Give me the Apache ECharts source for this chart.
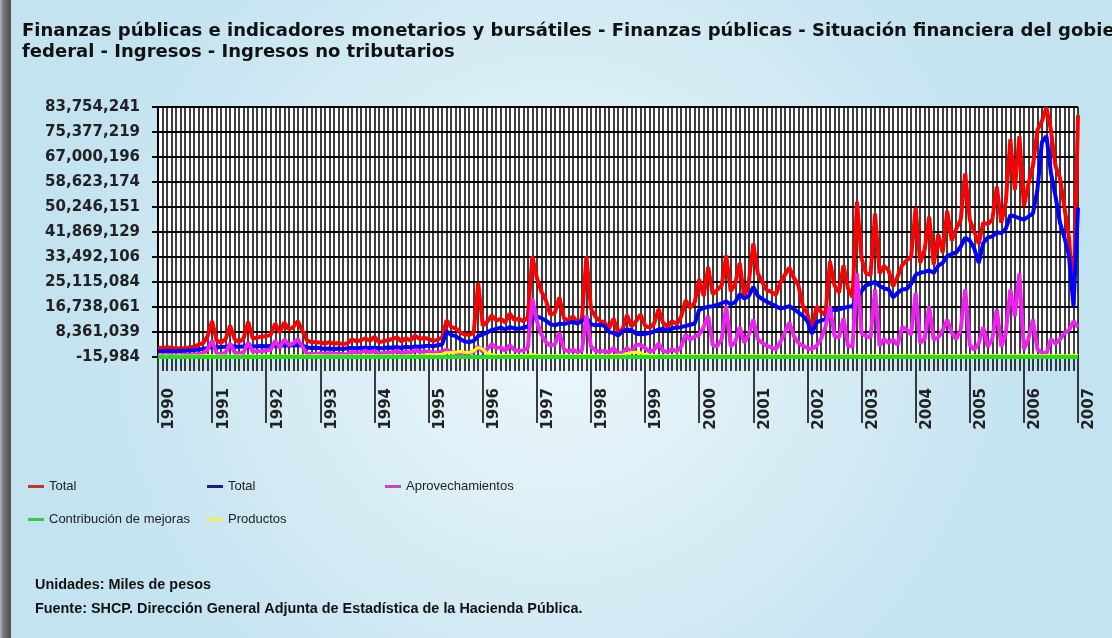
<!DOCTYPE html>
<html>
<head>
<meta charset="utf-8">
<title>Ingresos no tributarios</title>
<script src="https://cdn.jsdelivr.net/npm/echarts@6.0.0/dist/echarts.min.js"></script>
<style>
  html, body { margin: 0; padding: 0; }
  #chart { width: 1112px; height: 638px; }
</style>
</head>
<body>
<div id="chart"></div>
<script>
// categorias: meses ene-1990 .. ene-2007
var years = ['1990','1991','1992','1993','1994','1995','1996','1997','1998','1999','2000','2001','2002','2003','2004','2005','2006','2007'];
var monthNums = ['01','02','03','04','05','06','07','08','09','10','11','12'];

// eje Y (miles de pesos)
var yTicks = [-15984, 8361039, 16738061, 25115084, 33492106, 41869129, 50246151, 58623174, 67000196, 75377219, 83754241];

// Total (rojo)
var totalRojo = [
  3.1e6, 2.9e6, 3.3e6, 3.0e6, 2.8e6, 2.9e6, 3.0e6, 3.2e6, 3.4e6, 4.2e6, 4.6e6, 7.0e6,
  12.0e6, 5.5e6, 4.8e6, 6.0e6, 10.5e6, 6.0e6, 5.0e6, 6.3e6, 11.8e6, 6.2e6, 6.5e6, 6.8e6,
  7.0e6, 7.4e6, 11.2e6, 8.2e6, 11.6e6, 9.2e6, 10.0e6, 12.0e6, 8.8e6, 5.6e6, 5.0e6, 4.9e6,
  4.8e6, 4.5e6, 5.0e6, 4.4e6, 4.7e6, 4.3e6, 4.6e6, 5.9e6, 5.2e6, 5.6e6, 6.2e6, 5.4e6,
  6.8e6, 4.9e6, 5.3e6, 5.6e6, 6.0e6, 6.6e6, 5.2e6, 6.3e6, 5.5e6, 7.2e6, 6.0e6, 6.4e6,
  6.0e6, 5.4e6, 5.8e6, 6.5e6, 12.3e6, 10.0e6, 9.6e6, 8.2e6, 7.6e6, 7.4e6, 8.0e6, 24.9e6,
  10.5e6, 11.8e6, 13.9e6, 12.2e6, 12.8e6, 11.6e6, 14.6e6, 12.4e6, 12.8e6, 12.0e6, 13.2e6, 33.8e6,
  26.5e6, 22.0e6, 19.0e6, 14.2e6, 14.8e6, 20.0e6, 13.0e6, 12.2e6, 13.6e6, 11.5e6, 12.8e6, 33.8e6,
  16.2e6, 13.5e6, 12.0e6, 11.6e6, 9.5e6, 12.8e6, 8.6e6, 9.2e6, 14.0e6, 10.2e6, 12.0e6, 14.2e6,
  10.5e6, 9.8e6, 11.2e6, 16.0e6, 11.4e6, 10.2e6, 12.0e6, 11.0e6, 13.5e6, 19.0e6, 16.5e6, 18.2e6,
  26.0e6, 20.4e6, 30.0e6, 21.0e6, 22.5e6, 24.0e6, 34.0e6, 22.0e6, 24.5e6, 31.5e6, 20.0e6, 25.0e6,
  38.0e6, 28.0e6, 25.0e6, 22.4e6, 21.8e6, 20.8e6, 25.0e6, 27.5e6, 30.0e6, 26.5e6, 24.0e6, 17.0e6,
  14.5e6, 8.0e6, 17.0e6, 15.2e6, 14.0e6, 32.0e6, 24.0e6, 21.5e6, 30.7e6, 23.0e6, 20.0e6, 52.0e6,
  33.0e6, 28.0e6, 27.5e6, 48.0e6, 28.0e6, 30.5e6, 29.0e6, 23.7e6, 27.0e6, 30.7e6, 32.4e6, 33.5e6,
  50.0e6, 31.5e6, 36.0e6, 47.0e6, 31.0e6, 41.0e6, 35.0e6, 49.0e6, 39.0e6, 43.0e6, 46.0e6, 61.5e6,
  46.0e6, 42.0e6, 38.0e6, 45.0e6, 44.5e6, 46.0e6, 57.0e6, 45.0e6, 52.0e6, 73.0e6, 56.0e6, 74.0e6,
  50.5e6, 58.0e6, 64.0e6, 76.0e6, 79.0e6, 83.5e6, 76.0e6, 64.0e6, 60.0e6, 50.0e6, 40.0e6, 18.0e6,
  81.0e6
];

// Total (azul)
var totalAzul = [
  2.0e6, 1.9e6, 2.1e6, 2.0e6, 1.9e6, 2.0e6, 2.1e6, 2.2e6, 2.3e6, 2.5e6, 2.7e6, 3.0e6,
  3.4e6, 3.2e6, 3.3e6, 3.4e6, 3.6e6, 3.5e6, 3.4e6, 3.5e6, 3.6e6, 3.5e6, 3.6e6, 3.7e6,
  3.6e6, 3.7e6, 3.8e6, 3.7e6, 3.9e6, 3.8e6, 3.9e6, 4.0e6, 3.8e6, 3.2e6, 3.0e6, 3.1e6,
  2.9e6, 2.7e6, 2.8e6, 2.6e6, 2.8e6, 2.7e6, 2.9e6, 3.0e6, 2.9e6, 3.0e6, 3.1e6, 3.0e6,
  3.1e6, 2.9e6, 3.0e6, 3.2e6, 3.1e6, 3.3e6, 3.0e6, 3.4e6, 3.2e6, 3.5e6, 3.4e6, 3.6e6,
  3.8e6, 3.6e6, 3.9e6, 4.2e6, 8.6e6, 7.4e6, 7.0e6, 6.0e6, 5.2e6, 5.0e6, 5.4e6, 7.0e6,
  7.6e6, 8.2e6, 9.0e6, 9.4e6, 9.8e6, 9.2e6, 10.0e6, 9.6e6, 9.4e6, 9.8e6, 10.2e6, 12.5e6,
  13.6e6, 13.0e6, 12.2e6, 11.0e6, 10.6e6, 11.2e6, 11.0e6, 11.4e6, 11.8e6, 11.2e6, 12.0e6, 13.2e6,
  11.0e6, 10.6e6, 10.8e6, 10.4e6, 8.4e6, 8.0e6, 7.2e6, 8.6e6, 9.2e6, 9.0e6, 7.8e6, 7.6e6,
  7.8e6, 8.0e6, 8.6e6, 9.2e6, 9.4e6, 9.0e6, 9.6e6, 9.8e6, 10.0e6, 10.4e6, 10.8e6, 11.2e6,
  15.8e6, 16.4e6, 16.8e6, 17.0e6, 17.4e6, 18.0e6, 18.6e6, 17.6e6, 18.4e6, 21.0e6, 19.6e6, 20.4e6,
  23.5e6, 20.5e6, 19.4e6, 18.5e6, 17.8e6, 17.0e6, 16.2e6, 16.6e6, 17.0e6, 16.0e6, 14.9e6, 13.8e6,
  12.0e6, 7.8e6, 11.6e6, 12.2e6, 12.7e6, 16.0e6, 15.6e6, 16.0e6, 16.4e6, 16.8e6, 17.0e6, 20.0e6,
  22.0e6, 24.0e6, 24.5e6, 25.2e6, 23.8e6, 23.0e6, 22.6e6, 20.0e6, 21.5e6, 22.6e6, 22.8e6, 24.5e6,
  27.5e6, 28.2e6, 28.5e6, 29.0e6, 28.2e6, 30.5e6, 31.5e6, 33.8e6, 34.5e6, 35.0e6, 37.0e6, 40.0e6,
  39.0e6, 36.3e6, 31.5e6, 38.2e6, 40.0e6, 40.4e6, 41.8e6, 41.5e6, 43.0e6, 47.5e6, 47.0e6, 46.5e6,
  46.0e6, 47.0e6, 48.0e6, 56.0e6, 72.0e6, 74.0e6, 61.7e6, 54.0e6, 45.0e6, 40.0e6, 33.8e6, 17.0e6,
  50.0e6
];

var aprovechamientos = [
  0.6e6, 0.5e6, 0.7e6, 0.6e6, 0.5e6, 0.6e6, 0.7e6, 0.6e6, 0.8e6, 1.0e6, 1.2e6, 2.5e6,
  5.5e6, 1.2e6, 0.8e6, 1.5e6, 4.5e6, 1.5e6, 1.0e6, 1.6e6, 5.0e6, 1.8e6, 1.9e6, 2.0e6,
  2.2e6, 2.5e6, 5.5e6, 3.0e6, 5.8e6, 4.0e6, 4.5e6, 6.0e6, 3.5e6, 1.2e6, 1.0e6, 1.1e6,
  1.2e6, 1.0e6, 1.3e6, 1.0e6, 1.1e6, 0.9e6, 1.0e6, 1.8e6, 1.4e6, 1.6e6, 2.0e6, 1.5e6,
  2.0e6, 1.1e6, 1.3e6, 1.4e6, 1.6e6, 2.0e6, 1.2e6, 1.8e6, 1.4e6, 2.3e6, 1.7e6, 1.8e6,
  1.8e6, 1.5e6, 1.6e6, 1.8e6, 2.5e6, 1.6e6, 1.4e6, 1.3e6, 1.5e6, 1.4e6, 1.8e6, 3.5e6,
  1.8e6, 2.6e6, 4.2e6, 3.0e6, 3.2e6, 2.0e6, 4.0e6, 2.4e6, 2.0e6, 2.2e6, 3.0e6, 19.5e6,
  12.0e6, 7.5e6, 5.0e6, 3.8e6, 4.2e6, 8.2e6, 2.6e6, 1.8e6, 2.4e6, 1.6e6, 2.2e6, 14.0e6,
  3.5e6, 2.2e6, 1.8e6, 2.0e6, 1.5e6, 3.0e6, 1.2e6, 1.4e6, 3.0e6, 1.6e6, 4.2e6, 4.0e6,
  3.0e6, 1.8e6, 2.4e6, 4.5e6, 2.0e6, 1.6e6, 2.6e6, 1.8e6, 3.4e6, 7.5e6, 5.8e6, 6.8e6,
  7.5e6, 10.0e6, 13.7e6, 4.0e6, 3.6e6, 6.0e6, 17.0e6, 3.6e6, 5.0e6, 10.0e6, 4.8e6, 7.5e6,
  12.5e6, 6.0e6, 4.7e6, 3.7e6, 3.2e6, 2.6e6, 5.0e6, 8.1e6, 11.5e6, 7.0e6, 4.7e6, 3.7e6,
  3.0e6, 2.6e6, 3.7e6, 6.0e6, 10.0e6, 17.0e6, 7.0e6, 6.5e6, 13.0e6, 3.7e6, 3.5e6, 28.0e6,
  8.0e6, 7.0e6, 6.5e6, 22.6e6, 3.7e6, 6.0e6, 4.7e6, 5.8e6, 4.0e6, 10.0e6, 9.2e6, 7.5e6,
  21.5e6, 4.7e6, 6.0e6, 17.0e6, 5.8e6, 6.5e6, 9.0e6, 12.5e6, 8.1e6, 6.0e6, 9.2e6, 22.6e6,
  4.0e6, 2.5e6, 4.5e6, 10.0e6, 3.4e6, 6.0e6, 16.0e6, 3.4e6, 8.0e6, 22.6e6, 13.6e6, 28.0e6,
  2.5e6, 6.0e6, 12.5e6, 2.5e6, 1.5e6, 1.2e6, 6.0e6, 4.5e6, 5.9e6, 8.0e6, 9.0e6, 12.0e6,
  10.0e6
];

var productos = [
  0.3e6, 0.3e6, 0.4e6, 0.3e6, 0.3e6, 0.4e6, 0.3e6, 0.3e6, 0.4e6, 0.3e6, 0.4e6, 0.5e6,
  0.4e6, 0.3e6, 0.3e6, 0.4e6, 0.3e6, 0.3e6, 0.4e6, 0.3e6, 0.3e6, 0.4e6, 0.3e6, 0.5e6,
  0.4e6, 0.3e6, 0.4e6, 0.3e6, 0.4e6, 0.3e6, 0.4e6, 0.3e6, 0.4e6, 0.3e6, 0.4e6, 0.5e6,
  0.4e6, 0.3e6, 0.3e6, 0.4e6, 0.3e6, 0.4e6, 0.3e6, 0.3e6, 0.4e6, 0.3e6, 0.4e6, 0.5e6,
  0.4e6, 0.3e6, 0.4e6, 0.4e6, 0.3e6, 0.4e6, 0.3e6, 0.4e6, 0.4e6, 0.3e6, 0.4e6, 0.6e6,
  0.8e6, 0.7e6, 0.8e6, 0.9e6, 1.5e6, 1.4e6, 1.6e6, 1.8e6, 1.6e6, 1.5e6, 2.0e6, 3.2e6,
  2.6e6, 1.2e6, 0.8e6, 0.6e6, 0.5e6, 0.5e6, 0.6e6, 0.5e6, 0.4e6, 0.5e6, 0.5e6, 0.8e6,
  0.6e6, 0.5e6, 0.5e6, 0.4e6, 0.4e6, 0.5e6, 0.4e6, 0.4e6, 0.4e6, 0.4e6, 0.4e6, 0.6e6,
  0.5e6, 0.4e6, 0.4e6, 0.4e6, 0.4e6, 0.5e6, 0.6e6, 0.6e6, 1.2e6, 1.5e6, 1.6e6, 1.4e6,
  0.8e6, 0.6e6, 0.5e6, 0.4e6, 0.4e6, 0.4e6, 0.4e6, 0.4e6, 0.4e6, 0.5e6, 0.4e6, 0.5e6,
  0.5e6, 0.4e6, 0.5e6, 0.4e6, 0.4e6, 0.5e6, 0.4e6, 0.4e6, 0.5e6, 0.4e6, 0.4e6, 0.6e6,
  0.5e6, 0.4e6, 0.4e6, 0.5e6, 0.4e6, 0.4e6, 0.5e6, 0.4e6, 0.4e6, 0.5e6, 0.4e6, 0.6e6,
  0.5e6, 0.4e6, 0.5e6, 0.4e6, 0.4e6, 0.5e6, 0.4e6, 0.4e6, 0.5e6, 0.4e6, 0.4e6, 0.6e6,
  0.5e6, 0.4e6, 0.4e6, 0.5e6, 0.4e6, 0.4e6, 0.5e6, 0.4e6, 0.4e6, 0.5e6, 0.4e6, 0.6e6,
  0.5e6, 0.4e6, 0.5e6, 0.4e6, 0.4e6, 0.5e6, 0.4e6, 0.4e6, 0.5e6, 0.4e6, 0.4e6, 0.6e6,
  0.5e6, 0.4e6, 0.4e6, 0.5e6, 0.4e6, 0.4e6, 0.5e6, 0.4e6, 0.4e6, 0.5e6, 0.4e6, 0.6e6,
  0.5e6, 0.4e6, 0.5e6, 0.4e6, 0.4e6, 0.5e6, 0.4e6, 0.4e6, 0.5e6, 0.4e6, 0.4e6, 0.6e6,
  0.5e6
];

var contribucionMejoras = [
  20000, 15000, 22000, 30000, 18000, 12000, 25000, 20000, 28000, 22000, 19000, 40000,
  21000, 14000, 20000, 26000, 17000, 13000, 24000, 19000, 27000, 21000, 18000, 38000,
  19000, 16000, 23000, 28000, 20000, 14000, 22000, 21000, 26000, 20000, 17000, 35000,
  18000, 15000, 21000, 25000, 16000, 12000, 20000, 18000, 24000, 19000, 16000, 32000,
  17000, 14000, 19000, 23000, 15000, 11000, 19000, 17000, 22000, 18000, 15000, 30000,
  16000, 13000, 18000, 22000, 14000, 10000, 18000, 16000, 21000, 17000, 14000, 28000,
  15000, 12000, 17000, 20000, 13000, 10000, 16000, 15000, 19000, 16000, 13000, 26000,
  14000, 11000, 16000, 19000, 12000, 9000, 15000, 14000, 18000, 15000, 12000, 24000,
  13000, 10000, 15000, 18000, 11000, 9000, 14000, 13000, 17000, 14000, 11000, 22000,
  12000, 10000, 14000, 17000, 11000, 8000, 13000, 12000, 16000, 13000, 11000, 21000,
  12000, 9000, 13000, 16000, 10000, 8000, 12000, 11000, 15000, 12000, 10000, 20000,
  11000, 9000, 12000, 15000, 10000, 7000, 11000, 11000, 14000, 12000, 9000, 19000,
  11000, 8000, 12000, 14000, 9000, 7000, 11000, 10000, 13000, 11000, 9000, 18000,
  10000, 8000, 11000, 13000, 9000, 6000, 10000, 10000, 12000, 11000, 8000, 17000,
  10000, 7000, 10000, 12000, 8000, 6000, 10000, 9000, 12000, 10000, 8000, 16000,
  9000, 7000, 10000, 11000, 8000, 5000, 9000, 9000, 11000, 10000, 7000, 15000,
  9000, 6000, 9000, 11000, 7000, 5000, 9000, 8000, 10000, 9000, 7000, 14000,
  8000
];

// categorias del eje X a partir de años y meses
var meses = [];
for (var a = 0; a < years.length; a++) {
  for (var m = 0; m < monthNums.length; m++) {
    if (meses.length < totalRojo.length) meses.push(years[a] + '-' + monthNums[m]);
  }
}

var fuenteEjes = 'DejaVu Sans';

function linea(nombre, datos, color, ancho) {
  return {
    name: nombre,
    type: 'line',
    data: datos,
    showSymbol: false,
    color: color,
    lineStyle: { color: color, width: ancho },
    silent: true
  };
}

function leyenda(nombre, color, left, top) {
  return {
    data: [{ name: nombre, itemStyle: { color: color } }],
    left: left,
    top: top,
    padding: 0,
    icon: 'rect',
    itemWidth: 16,
    itemHeight: 3,
    selectedMode: false,
    formatter: function (n) { return n.trim(); },
    textStyle: { fontFamily: 'Liberation Sans', fontSize: 13, color: '#222' }
  };
}

var chart = echarts.init(document.getElementById('chart'));

var option = {
  animation: false,
  backgroundColor: {
    type: 'radial', x: 0.5, y: 0.5, r: 0.75,
    colorStops: [{ offset: 0, color: '#eef8fb' }, { offset: 1, color: '#c4e3f0' }]
  },
  title: [{
    text: 'Finanzas públicas e indicadores monetarios y bursátiles - Finanzas públicas - Situación financiera del gobierno\nfederal - Ingresos - Ingresos no tributarios',
    left: 22,
    top: 21,
    padding: 0,
    textStyle: { fontFamily: fuenteEjes, fontWeight: 'bold', fontSize: 18, lineHeight: 21, color: '#111' }
  }, {
    text: 'Unidades: Miles de pesos\nFuente: SHCP. Dirección General Adjunta de Estadística de la Hacienda Pública.',
    left: 35,
    top: 573,
    padding: 0,
    textStyle: { fontFamily: 'Liberation Sans', fontWeight: 'bold', fontSize: 14.4, lineHeight: 24, color: '#111' }
  }],
  legend: [
    leyenda('Total', '#c8302c', 28, 480),
    leyenda('Total ', '#1c1c80', 207, 480),
    leyenda('Aprovechamientos', '#c04cc0', 385, 480),
    leyenda('Contribución de mejoras', '#3cc83c', 28, 513),
    leyenda('Productos', '#f0f050', 207, 513)
  ],
  grid: {
    left: 158, right: 34, top: 107, bottom: 281,
    show: true, backgroundColor: '#ffffff', borderWidth: 0
  },
  xAxis: [{
    type: 'category',
    position: 'bottom',
    data: meses,
    boundaryGap: false,
    axisLine: { lineStyle: { color: '#000', width: 2 } },
    axisTick: { interval: 0, length: 14, lineStyle: { color: '#000', width: 1.5 } },
    axisLabel: { show: false },
    splitLine: { show: true, interval: 0, lineStyle: { color: '#000', width: 1.5 } }
  }, {
    type: 'category',
    position: 'bottom',
    data: meses,
    boundaryGap: false,
    axisLine: { show: false },
    axisTick: {
      interval: function (i) { return i % 12 === 0; },
      length: 66,
      lineStyle: { color: '#000', width: 1.5 }
    },
    axisLabel: {
      interval: function (i) { return i % 12 === 0; },
      rotate: 90,
      margin: 31,
      verticalAlign: 'top',
      padding: [4, 0, 0, 0],
      formatter: function (v) { return v.slice(0, 4); },
      fontFamily: fuenteEjes, fontWeight: 'bold', fontSize: 15, color: '#222'
    },
    splitLine: { show: false }
  }],
  yAxis: {
    type: 'value',
    min: yTicks[0],
    max: yTicks[yTicks.length - 1],
    axisLine: { show: true, lineStyle: { color: '#000', width: 2 } },
    axisTick: { show: true, length: 6, customValues: yTicks, lineStyle: { color: '#000', width: 2 } },
    axisLabel: {
      customValues: yTicks,
      margin: 18,
      formatter: function (v) { return Math.round(v).toLocaleString('en-US'); },
      fontFamily: fuenteEjes, fontWeight: 'bold', fontSize: 15, color: '#222'
    },
    splitLine: { show: true, lineStyle: { color: '#000', width: 2 } }
  },
  series: [
    linea('Total', totalRojo, '#ff0000', 4),
    linea('Total ', totalAzul, '#0000ff', 4),
    linea('Aprovechamientos', aprovechamientos, '#ee22ee', 4),
    linea('Productos', productos, '#ffff00', 3),
    linea('Contribución de mejoras', contribucionMejoras, '#22dd22', 4)
  ],
  graphic: [{
    type: 'rect',
    left: 0, top: 0,
    shape: { width: 11, height: 638 },
    style: {
      fill: {
        type: 'linear', x: 0, y: 0, x2: 1, y2: 0,
        colorStops: [{ offset: 0, color: '#b8b8b8' }, { offset: 0.3, color: '#777777' }, { offset: 1, color: '#4e4e4e' }]
      }
    },
    silent: true
  }]
};

chart.setOption(option);
</script>
</body>
</html>
